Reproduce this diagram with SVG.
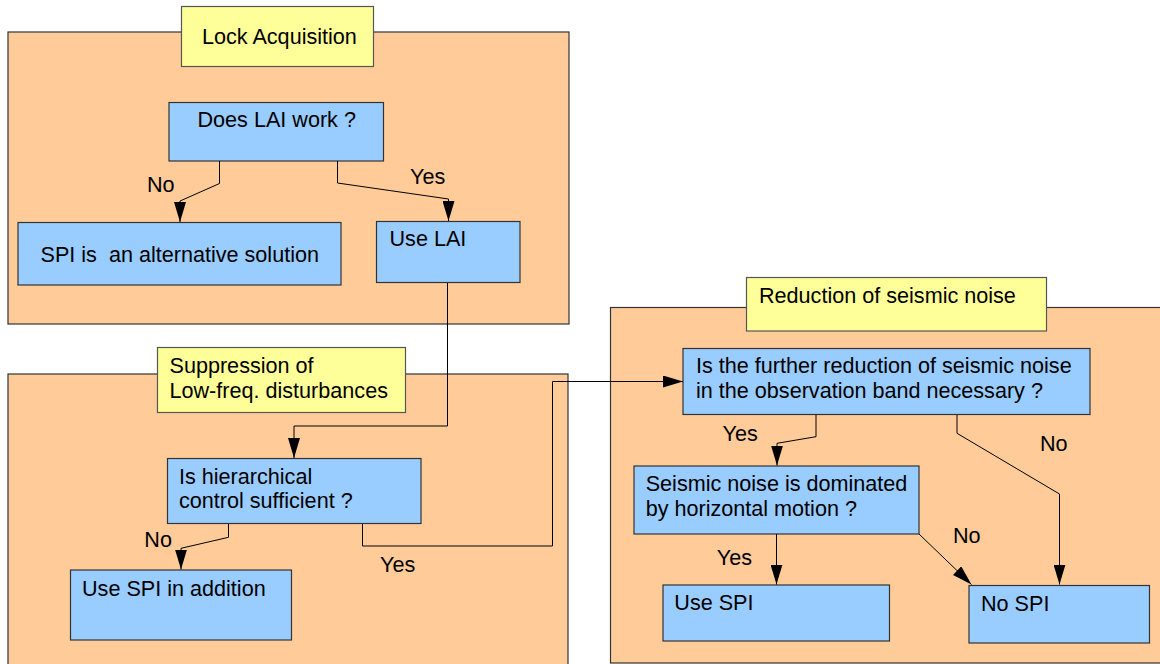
<svg xmlns="http://www.w3.org/2000/svg" width="1160" height="664" viewBox="0 0 1160 664">
<style>
.area{fill:#FFCC99;stroke:#333;stroke-width:1.2}
.title{fill:#FFFF99;stroke:#555;stroke-width:1.2}
.box{fill:#99CCFF;stroke:#333;stroke-width:1.2}
text{font-family:"Liberation Sans",Arial,sans-serif;font-size:21.6px;fill:#000}
.conn{fill:none;stroke:#000;stroke-width:1}
</style>
<defs>
<marker id="ah" markerUnits="userSpaceOnUse" markerWidth="20" markerHeight="12" refX="20" refY="6" orient="auto">
<path d="M0,0 L20,6 L0,12 z" fill="#000"/>
</marker>
</defs>
<g id="area-lock">
<rect class="area" x="8" y="32" width="561" height="292"/>
<rect class="title" x="181.5" y="6.5" width="192" height="60"/>
<text x="202" y="44">Lock Acquisition</text>
</g>
<g id="area-suppression">
<rect class="area" x="8" y="374" width="560" height="300"/>
<rect class="title" x="157.5" y="347.5" width="248" height="65"/>
<text x="169.5" y="373.3">Suppression of</text>
<text x="169.5" y="397.7">Low-freq. disturbances</text>
</g>
<g id="area-seismic">
<rect class="area" x="610.5" y="307.5" width="560" height="355.5"/>
<rect class="title" x="746.5" y="277.5" width="300" height="53.5"/>
<text x="759" y="302.7">Reduction of seismic noise</text>
</g>
<g id="n-lai">
<rect class="box" x="169" y="102.5" width="214.5" height="58.5"/>
<text x="197.5" y="127">Does LAI work ?</text>
</g>
<g id="n-spi-alt">
<rect class="box" x="18" y="222.5" width="323" height="62.5"/>
<text x="40.5" y="261.7" xml:space="preserve" style="white-space:pre">SPI is  an alternative solution</text>
</g>
<g id="n-use-lai">
<rect class="box" x="376.5" y="221.5" width="143.5" height="61"/>
<text x="389.5" y="246">Use LAI</text>
</g>
<g id="n-hier">
<rect class="box" x="167.5" y="458.5" width="253.5" height="65"/>
<text x="179" y="484">Is hierarchical</text>
<text x="179" y="508.3">control sufficient ?</text>
</g>
<g id="n-spi-add">
<rect class="box" x="70.5" y="570" width="221" height="70"/>
<text x="82" y="595.7">Use SPI in addition</text>
</g>
<g id="n-further">
<rect class="box" x="683" y="348.5" width="407" height="66"/>
<text x="696" y="372.7">Is the further reduction of seismic noise</text>
<text x="696" y="397.7">in the observation band necessary ?</text>
</g>
<g id="n-horiz">
<rect class="box" x="634" y="466" width="285" height="68"/>
<text x="645.7" y="490.7">Seismic noise is dominated</text>
<text x="645.7" y="515.7">by horizontal motion ?</text>
</g>
<g id="n-use-spi">
<rect class="box" x="663" y="585" width="226.5" height="56"/>
<text x="674.3" y="610">Use SPI</text>
</g>
<g id="n-no-spi">
<rect class="box" x="969" y="585.5" width="180.5" height="57.5"/>
<text x="981" y="611">No SPI</text>
</g>
<g id="connectors">
<polyline class="conn" points="219.5,161 219.5,183.5 180,201 180,222" marker-end="url(#ah)"/>
<text x="147" y="191.7">No</text>
<polyline class="conn" points="337.5,161 337.5,183 448.5,199 448.5,221" marker-end="url(#ah)"/>
<text x="410" y="184">Yes</text>
<polyline class="conn" points="447.5,283 447.5,426 294,426 294,458" marker-end="url(#ah)"/>
<polyline class="conn" points="228.5,524 228.5,537.3 181,548.3 181,569.5" marker-end="url(#ah)"/>
<text x="144.3" y="546.7">No</text>
<polyline class="conn" points="362.5,524 362.5,546 552.5,546 552.5,381.5 683,381.5" marker-end="url(#ah)"/>
<text x="380" y="571.7">Yes</text>
<polyline class="conn" points="816,415 816,436.7 777,443.3 777,465.5" marker-end="url(#ah)"/>
<text x="722.5" y="441">Yes</text>
<polyline class="conn" points="957,415 957,433.3 1059.5,494 1059.5,584.5" marker-end="url(#ah)"/>
<text x="1040" y="450.7">No</text>
<polyline class="conn" points="776.5,534 776.5,584.5" marker-end="url(#ah)"/>
<text x="716.8" y="565">Yes</text>
<polyline class="conn" points="919,534 971.5,584.5" marker-end="url(#ah)"/>
<text x="953" y="542.7">No</text>
</g>
</svg>
